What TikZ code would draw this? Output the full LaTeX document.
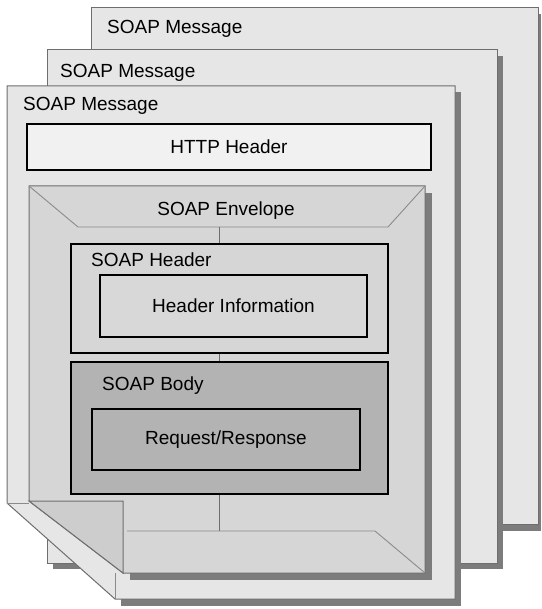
\documentclass[tikz,border=0pt]{standalone}
\usepackage{fontspec}
\setmainfont{Liberation Sans}

\definecolor{pagefill}{HTML}{E6E6E6}
\definecolor{pageedge}{HTML}{6E6E6E}
\definecolor{shadowgray}{HTML}{7C7C7C}
\definecolor{httpfill}{HTML}{F1F1F1}
\definecolor{envfill}{HTML}{D6D6D6}
\definecolor{flapfill}{HTML}{CDCDCD}
\definecolor{bodyfill}{HTML}{B3B3B3}

\tikzset{
  txt/.style={font=\fontsize{19}{22}\selectfont},
  page/.style={fill=pagefill, draw=pageedge, line width=1pt},
  pageshadow/.style={fill=shadowgray},
  msglabel/.style={txt, anchor=base west, inner sep=0pt},
  box/.style={txt, rectangle, draw=black, line width=1.8pt, inner sep=0pt},
  fold/.style={draw=pageedge!80, line width=0.9pt},
  spineline/.style={draw=pageedge, line width=0.9pt},
}

\begin{document}
\begin{tikzpicture}[x=1pt,y=-1pt]
      \useasboundingbox (0,0) rectangle (541,609);

      % back pages
      \fill[pageshadow] (97,14) rectangle (541,531);
      \draw[page] (91,8) rectangle (538,524);
      \node[msglabel] (msg3) at (107,34) {SOAP Message};
      \fill[pageshadow] (53,56) rectangle (503,569);
      \draw[page] (47,50) rectangle (497,563);
      \node[msglabel] (msg2) at (60,78) {SOAP Message};

      % front page with folded corner
      \fill[pageshadow] (121,92) rectangle (461,606);
      \draw[page] (7,86) -- (455,86) -- (455,599) -- (115,599) -- (7,503) -- cycle;
      \draw[fold] (7,503) -- (29,503);
      \draw[fold] (115,573) -- (115,599);
      \node[msglabel] (msg1) at (23,111) {SOAP Message};

      \node[box, fill=httpfill, minimum width=404pt, minimum height=46pt] (http) at (229,147) {HTTP Header};

      % envelope
      \coordinate (etl) at (29,186);
      \coordinate (etr) at (425,186);
      \coordinate (ebr) at (425,573);
      \coordinate (ebl) at (123,573);
      \coordinate (efl) at (29,501);
      \coordinate (efr) at (123,501);
      \coordinate (ttl) at (78,227);
      \coordinate (ttr) at (388,227);
      \coordinate (btl) at (127,531);
      \coordinate (btr) at (375,531);
      \fill[pageshadow] (130,193) rectangle (432,580);
      \filldraw[fill=envfill, draw=pageedge, line width=1pt] (etl) -- (etr) -- (ebr) -- (ebl) -- (efl) -- cycle;
      \filldraw[fill=flapfill, draw=pageedge, line width=1pt] (efl) -- (efr) -- (ebl) -- cycle;
      \draw[fold] (etl) -- (ttl) -- (ttr) -- (etr);
      \draw[fold] (btl) -- (btr) -- (ebr);
      \node[txt, anchor=base, inner sep=0pt] (env) at (226,216) {SOAP Envelope};

      \node[box, fill=envfill, minimum width=317pt, minimum height=109pt] (hdr) at (229.5,298.5) {};
      \node[msglabel] (hdrlabel) at (91,266) {SOAP Header};
      \node[box, fill=envfill!95!white, minimum width=267pt, minimum height=62pt] (hinfo) at (233.5,306) {Header Information};

      \node[box, fill=bodyfill, minimum width=317pt, minimum height=132pt] (body) at (229.5,428) {};
      \node[msglabel] (bodylabel) at (102,390) {SOAP Body};
      \node[box, fill=bodyfill, minimum width=268pt, minimum height=61pt] (req) at (226,439.5) {Request/Response};

      % spine of the envelope
      \coordinate (spine) at (219,0);
      \draw[spineline] (spine |- ttl) -- (spine |- hdr.north);
      \draw[spineline] (spine |- hdr.south) -- (spine |- body.north);
      \draw[spineline] (spine |- body.south) -- (spine |- btl);

\end{tikzpicture}
\end{document}
